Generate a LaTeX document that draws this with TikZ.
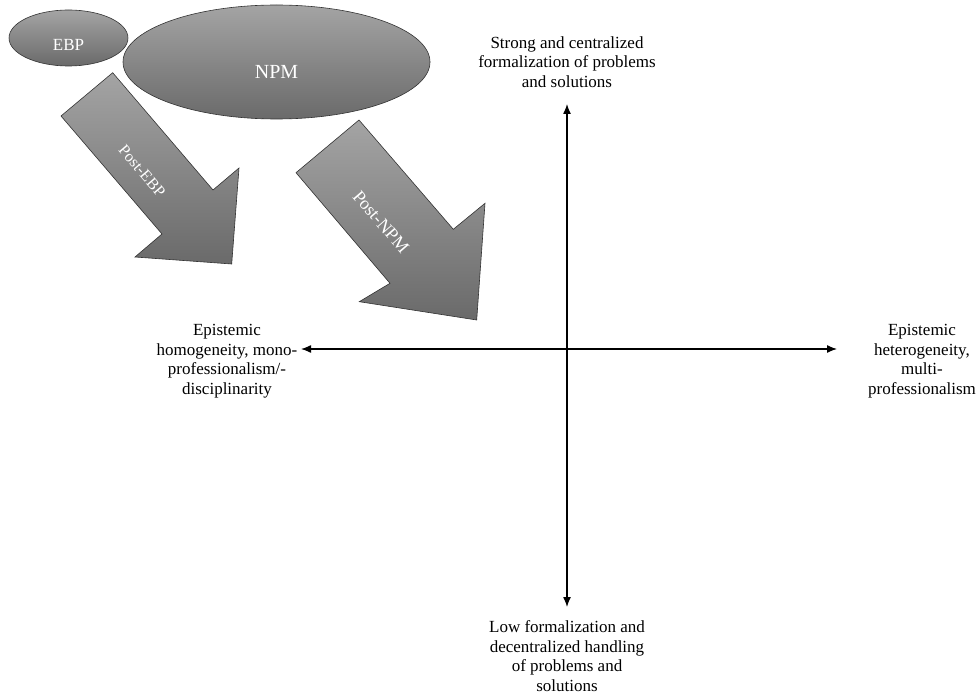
\documentclass[tikz,border=0pt]{standalone}
\usepackage{fontspec}
\setmainfont{Liberation Serif}
\usetikzlibrary{arrows.meta}
\definecolor{shadeTop}{RGB}{164,164,164}
\definecolor{shadeBot}{RGB}{106,106,106}
\begin{document}
\begin{tikzpicture}[x=1pt,y=-1pt,>={Latex[length=10pt,width=8pt]},
    blob/.style={draw=black!80,line width=.6pt,top color=shadeTop,bottom color=shadeBot},
    axislabel/.style={align=center,font=\fontsize{17}{19.5}\selectfont},
    blobtext/.style={text=white}]
            \useasboundingbox (0,0) rectangle (977,695);
            % the two ellipses
            \draw[blob] (68.5,38) ellipse (59.5 and 28);
            \node[blobtext,font=\fontsize{17}{20}\selectfont] (ebp) at (68.5,45) {EBP};
            \draw[blob] (276.5,62) ellipse (153.5 and 57);
            \node[blobtext,font=\fontsize{20}{24}\selectfont] (npm) at (276.5,72) {NPM};
            % the two big arrows
            \draw[blob] (61,116)--(112.7,72.7)--(213,190)--(239,168)--(231.7,264)--(135,257)--(162,234)--cycle;
            \node[blobtext,rotate=-49.5,font=\fontsize{16}{19}\selectfont] (postebp) at (142,171) {Post-EBP};
            \draw[blob] (296,172.7)--(359,120)--(453.3,229.3)--(485,203.3)--(476.7,320)--(359.3,301.7)--(390,283.3)--cycle;
            \node[blobtext,rotate=-49.2,font=\fontsize{18}{21}\selectfont] (postnpm) at (381,222) {Post-NPM};
            % axes
            \node[axislabel] (strong) at (567,62) {Strong and centralized\\formalization of problems\\and solutions};
            \node[axislabel] (low) at (567,656) {Low formalization and\\decentralized handling\\of problems and\\solutions};
            \node[axislabel] (homo) at (227,361) {Epistemic\\homogeneity, mono-\\professionalism/-\\disciplinarity};
            \node[axislabel] (hetero) at (922,361) {Epistemic\\heterogeneity,\\multi-\\professionalism};
            \coordinate (top) at (567,104);
            \coordinate (bot) at (567,607);
            \coordinate (left) at (301,349);
            \coordinate (right) at (837,349);
            \draw[<->,line width=1.3pt] (top)--(bot);
            \draw[<->,line width=1.3pt] (left)--(right);
        \end{tikzpicture}
\end{document}
